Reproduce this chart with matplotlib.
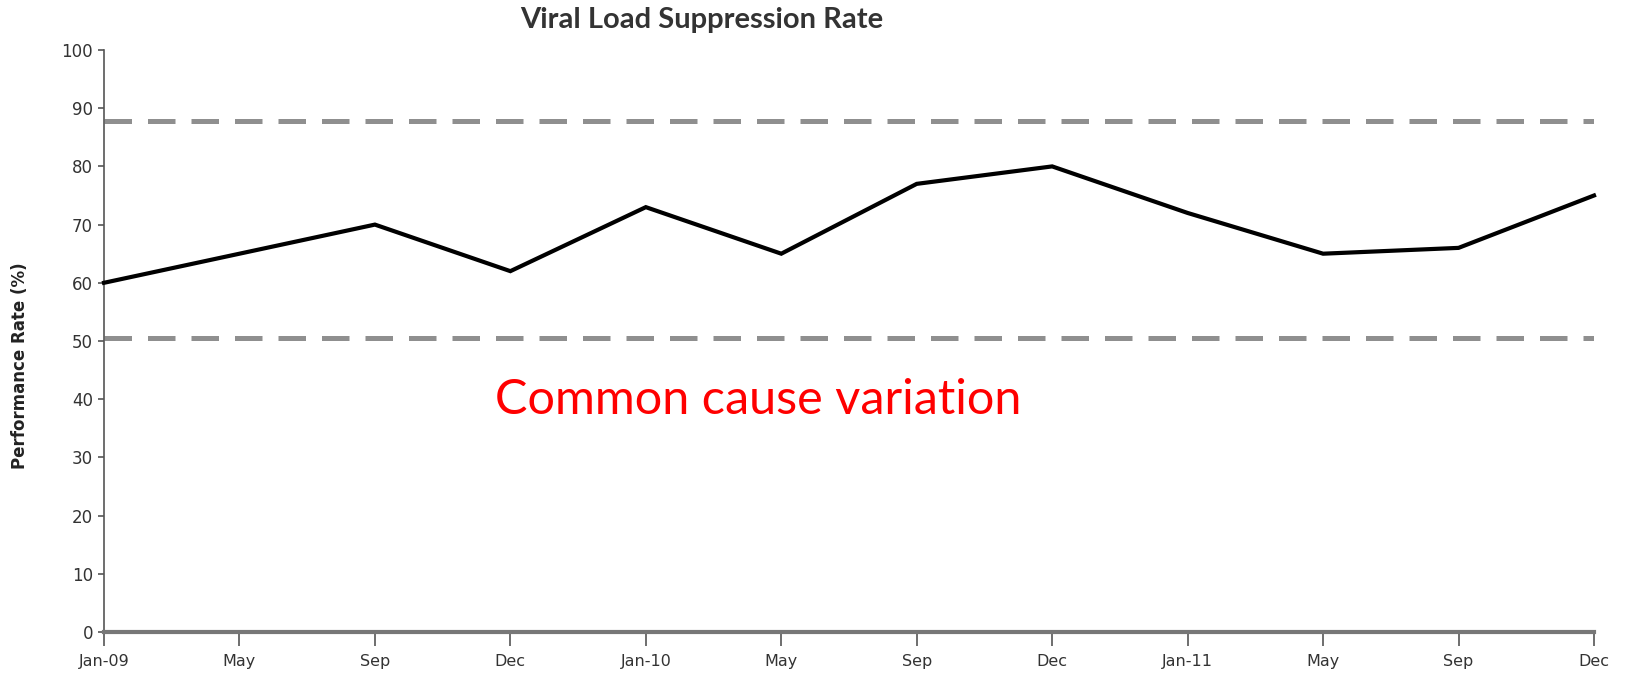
import matplotlib
matplotlib.use("Agg")
import matplotlib.pyplot as plt

months = ["Jan-09", "May", "Sep", "Dec", "Jan-10", "May", "Sep", "Dec",
          "Jan-11", "May", "Sep", "Dec"]
rates = [60, 65, 70, 62, 73, 65, 77, 80, 72, 65, 66, 75]
upper_limit = 87.8
lower_limit = 50.5
yticks = [0, 10, 20, 30, 40, 50, 60, 70, 80, 90, 100]

fig = plt.figure(figsize=(16.31, 6.78), dpi=100)
ax = fig.add_axes([104/1631, 1-632/678, (1594-104)/1631, (632-50)/678])

x = list(range(len(months)))
ax.axhline(upper_limit, color="#8f8f8f", lw=3.6, dashes=(5.5, 3.2), zorder=2)
ax.axhline(lower_limit, color="#8f8f8f", lw=3.6, dashes=(5.5, 3.2), zorder=2)
ax.plot(x, rates, color="black", lw=3.0, solid_joinstyle="miter", zorder=3, clip_on=False)

ax.set_xlim(0, len(months) - 1)
ax.set_ylim(0, 100)
ax.set_xticks(x)
ax.set_xticklabels(months, fontsize=11.5, color="#333333")
ax.set_yticks(yticks)
ax.set_yticklabels([str(v) for v in yticks], fontsize=12, color="#333333")
for s in ["top", "right"]:
    ax.spines[s].set_visible(False)
ax.spines["left"].set_color("#555555")
ax.spines["left"].set_linewidth(1.2)
ax.spines["bottom"].set_color("#777777")
ax.spines["bottom"].set_linewidth(3)
ax.tick_params(axis="x", length=10, width=1.2, color="#555555", pad=6)
ax.tick_params(axis="y", length=4, width=1.2, color="#555555", pad=4)

ax.set_ylabel("Performance Rate (%)", fontsize=12, fontweight="bold", color="#222222")
ax.yaxis.set_label_coords(-0.050, 0.457)
fig.text(702/1631, 1-20/678, "Viral Load Suppression Rate", ha="center", va="center",
         fontsize=21, fontweight="bold", color="#333333", family="Lato")
fig.text(758/1631, 1-400/678, "Common cause variation", ha="center", va="center",
         fontsize=35, color="#ff0000", family="Lato")

fig.savefig("out.png", dpi=100)
